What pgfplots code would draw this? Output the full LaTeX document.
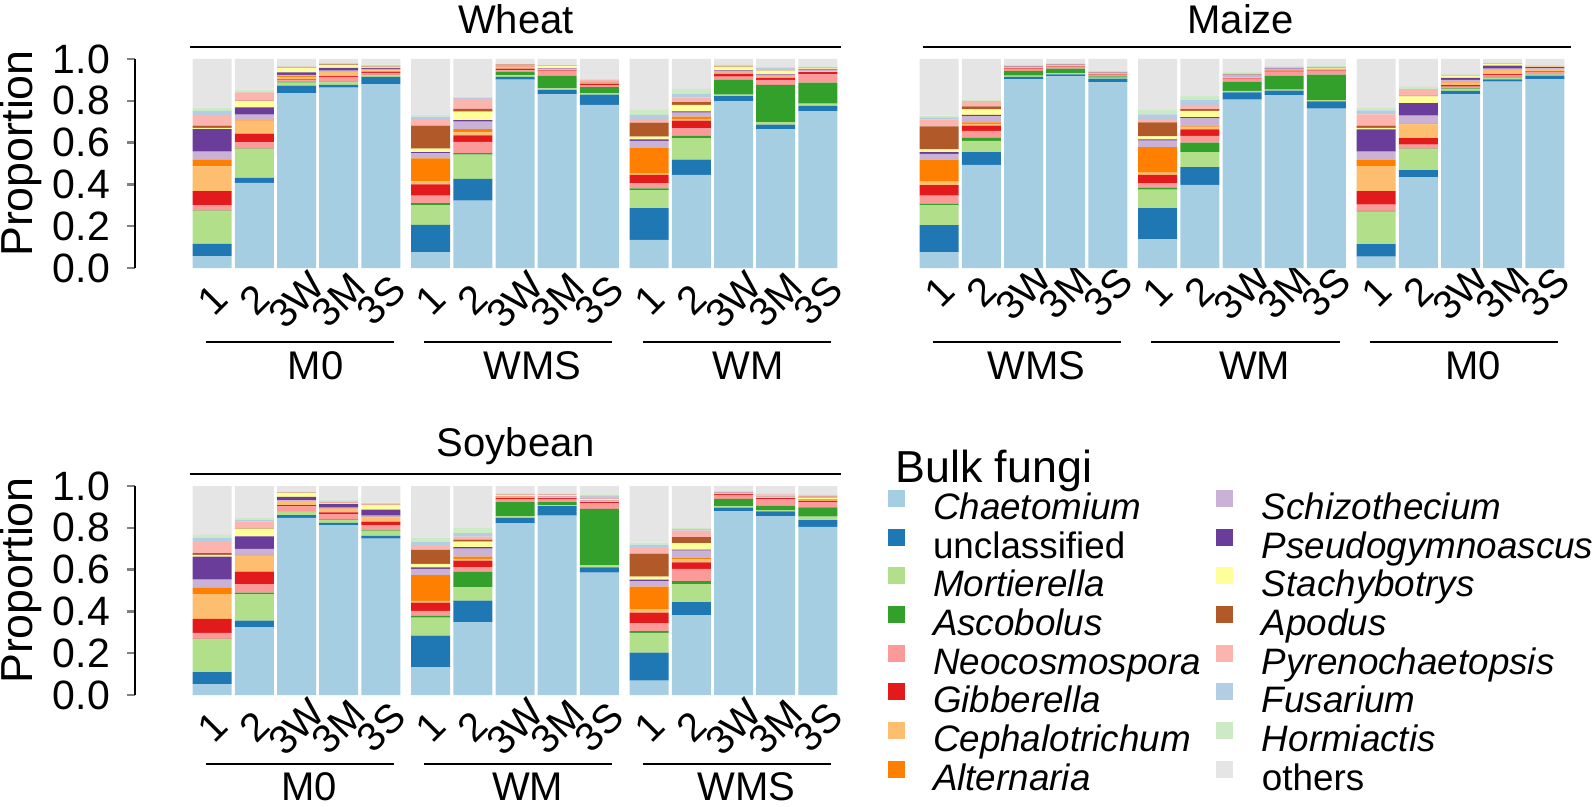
\documentclass[border=0pt]{standalone}
\usepackage{fontspec}
\setmainfont{Liberation Sans}
\usepackage{pgfplots}
\usepackage{pgfplotstable}
\pgfplotsset{compat=1.18}

\definecolor{cCha}{HTML}{A6CEE3}
\definecolor{cUnc}{HTML}{1F78B4}
\definecolor{cMor}{HTML}{B2DF8A}
\definecolor{cAsc}{HTML}{33A02C}
\definecolor{cNeo}{HTML}{FB9A99}
\definecolor{cGib}{HTML}{E31A1C}
\definecolor{cCep}{HTML}{FDBF6F}
\definecolor{cAlt}{HTML}{FF7F00}
\definecolor{cSch}{HTML}{CAB2D6}
\definecolor{cPse}{HTML}{6A3D9A}
\definecolor{cSta}{HTML}{FFFF99}
\definecolor{cApo}{HTML}{B15928}
\definecolor{cPyr}{HTML}{FBB4AE}
\definecolor{cFus}{HTML}{B3CDE3}
\definecolor{cHor}{HTML}{CCEBC5}
\definecolor{cOth}{HTML}{E5E5E5}

\newcommand{\gfont}{\fontsize{20}{23}\selectfont}
\newcommand{\xfont}{\fontsize{20}{23}\selectfont}
\newcommand{\tfont}{\fontsize{20.5}{24}\selectfont}
\newcommand{\lfont}{\fontsize{22.4}{26}\selectfont}

\pgfplotstableread{
x Cha Unc Mor Asc Neo Gib Cep Alt Sch Pse Sta Apo Pyr Fus Hor Oth
0 .056 .059 .156 .003 .027 .067 .118 .031 .040 .108 .006 .010 .052 .019 .016 .232
1 .407 .024 .138 .002 .030 .042 .062 .003 .026 .035 .030 .002 .039 .002 .011 .147
2 .836 .036 .015 .003 .008 .005 .012 .003 .006 .012 .020 .002 .005 .002 .002 .033
3 .863 .013 .012 .002 .024 .004 .020 .002 .004 .014 .014 .002 .004 .002 .002 .018
4 .879 .035 .008 .002 .010 .005 .006 .003 .005 .005 .006 .002 .003 .002 .002 .027
5.18 .075 .131 .095 .010 .035 .054 .015 .110 .024 .006 .016 .110 .032 .011 .008 .268
6.18 .322 .104 .116 .008 .053 .032 .014 .016 .035 .007 .041 .013 .048 .006 .003 .182
7.18 .901 .014 .007 .017 .007 .008 .008 .002 .002 .002 .003 .002 .003 .001 .001 .022
8.18 .831 .021 .008 .060 .023 .003 .003 .001 .004 .002 .010 .001 .002 .001 .001 .029
9.18 .781 .048 .008 .029 .008 .008 .004 .001 .002 .001 .002 .001 .008 .001 .001 .097
10.36 .135 .152 .086 .008 .024 .041 .006 .124 .032 .008 .013 .066 .018 .020 .024 .243
11.36 .446 .073 .103 .011 .035 .037 .009 .010 .020 .005 .032 .013 .022 .017 .024 .143
12.36 .798 .024 .007 .071 .016 .013 .004 .002 .008 .002 .019 .002 .004 .001 .001 .028
13.36 .663 .023 .012 .178 .024 .010 .004 .002 .008 .002 .018 .001 .003 .011 .002 .039
14.36 .751 .025 .010 .101 .040 .010 .004 .001 .006 .002 .005 .002 .003 .002 .002 .036
}\wheat

\pgfplotstableread{
x Cha Unc Mor Asc Neo Gib Cep Alt Sch Pse Sta Apo Pyr Fus Hor Oth
0 .075 .130 .095 .008 .038 .051 .016 .106 .027 .008 .014 .110 .032 .011 .008 .271
1 .494 .060 .054 .016 .032 .025 .009 .007 .030 .006 .026 .014 .021 .004 .005 .197
2 .902 .012 .007 .022 .009 .003 .005 .001 .001 .001 .001 .001 .003 .001 .001 .030
3 .917 .010 .006 .021 .009 .003 .004 .001 .001 .001 .001 .001 .002 .001 .001 .021
4 .889 .017 .005 .006 .008 .003 .004 .001 .001 .001 .001 .001 .003 .001 .001 .058
5.18 .138 .149 .088 .008 .023 .040 .010 .122 .032 .006 .014 .067 .017 .021 .022 .243
6.18 .398 .085 .071 .046 .032 .031 .010 .005 .038 .006 .030 .008 .019 .024 .019 .178
7.18 .806 .034 .008 .042 .016 .003 .003 .001 .009 .003 .002 .001 .002 .001 .006 .063
8.18 .827 .022 .005 .067 .019 .004 .004 .001 .005 .002 .003 .001 .002 .001 .001 .036
9.18 .762 .035 .006 .122 .019 .003 .002 .001 .002 .001 .005 .001 .002 .001 .004 .034
10.36 .054 .060 .156 .003 .030 .065 .119 .029 .041 .106 .008 .010 .054 .019 .014 .232
11.36 .435 .033 .100 .003 .019 .031 .066 .003 .039 .060 .032 .003 .028 .004 .011 .133
12.36 .832 .016 .008 .003 .009 .007 .012 .002 .011 .010 .011 .001 .002 .001 .001 .074
13.36 .892 .011 .008 .003 .010 .004 .020 .001 .005 .014 .008 .001 .001 .001 .001 .020
14.36 .903 .018 .004 .002 .010 .004 .009 .001 .004 .006 .003 .001 .002 .001 .001 .031
}\maize

\pgfplotstableread{
x Cha Unc Mor Asc Neo Gib Cep Alt Sch Pse Sta Apo Pyr Fus Hor Oth
0 .051 .059 .156 .003 .028 .067 .119 .029 .040 .110 .008 .009 .053 .019 .015 .234
1 .324 .032 .127 .007 .041 .059 .077 .003 .029 .060 .037 .002 .033 .008 .011 .150
2 .848 .013 .016 .002 .024 .005 .017 .002 .005 .016 .019 .001 .002 .001 .003 .026
3 .812 .011 .014 .003 .026 .008 .016 .002 .005 .017 .005 .002 .004 .005 .003 .067
4 .748 .013 .024 .003 .025 .016 .021 .002 .006 .029 .021 .002 .006 .002 .002 .080
5.18 .132 .152 .086 .010 .022 .040 .008 .124 .029 .008 .016 .067 .019 .019 .022 .246
6.18 .349 .102 .064 .074 .023 .031 .008 .011 .038 .007 .027 .009 .015 .017 .024 .201
7.18 .821 .027 .008 .067 .013 .007 .005 .001 .002 .001 .005 .001 .004 .001 .002 .035
8.18 .858 .046 .005 .014 .016 .003 .005 .001 .002 .001 .005 .001 .004 .001 .001 .037
9.18 .585 .026 .011 .268 .027 .006 .005 .001 .002 .001 .005 .001 .010 .007 .005 .040
10.36 .069 .134 .094 .009 .038 .050 .017 .107 .026 .008 .014 .110 .032 .011 .010 .271
11.36 .381 .064 .086 .014 .058 .032 .014 .008 .034 .004 .032 .029 .030 .008 .008 .198
12.36 .880 .016 .008 .034 .019 .004 .004 .001 .001 .001 .001 .001 .002 .001 .001 .027
13.36 .856 .023 .006 .021 .030 .006 .004 .001 .001 .001 .005 .001 .005 .004 .001 .035
14.36 .805 .032 .016 .045 .025 .006 .005 .001 .001 .001 .007 .005 .006 .001 .001 .043
}\soybean

\newcommand{\stackplots}[1]{%
  \addplot[fill=cCha] table[x=x,y=Cha]{#1};
  \addplot[fill=cUnc] table[x=x,y=Unc]{#1};
  \addplot[fill=cMor] table[x=x,y=Mor]{#1};
  \addplot[fill=cAsc] table[x=x,y=Asc]{#1};
  \addplot[fill=cNeo] table[x=x,y=Neo]{#1};
  \addplot[fill=cGib] table[x=x,y=Gib]{#1};
  \addplot[fill=cCep] table[x=x,y=Cep]{#1};
  \addplot[fill=cAlt] table[x=x,y=Alt]{#1};
  \addplot[fill=cSch] table[x=x,y=Sch]{#1};
  \addplot[fill=cPse] table[x=x,y=Pse]{#1};
  \addplot[fill=cSta] table[x=x,y=Sta]{#1};
  \addplot[fill=cApo] table[x=x,y=Apo]{#1};
  \addplot[fill=cPyr] table[x=x,y=Pyr]{#1};
  \addplot[fill=cFus] table[x=x,y=Fus]{#1};
  \addplot[fill=cHor] table[x=x,y=Hor]{#1};
  \addplot[fill=cOth] table[x=x,y=Oth]{#1};
}

\pgfplotsset{
  panel/.style={
    scale only axis, width=352pt, height=104.5pt, anchor=south west,
    xmin=-1.83, xmax=14.86, ymin=0, ymax=1,
    ybar stacked, bar width=19.5pt, clip=false,
    every axis plot/.append style={draw=none},
    xtick={0,1,2,3,4,5.18,6.18,7.18,8.18,9.18,10.36,11.36,12.36,13.36,14.36},
    xticklabels={1,2,3W,3M,3S,1,2,3W,3M,3S,1,2,3W,3M,3S},
    axis x line*=bottom,
    x axis line style={draw=none},
    xtick style={draw=none},
    xticklabel style={font=\xfont, inner sep=0pt, yshift=-12pt, rotate=45, anchor=center},
  },
  yaxis/.style={
    axis y line*=left,
    y axis line style={line width=1.2pt},
    ytick={0,0.2,0.4,0.6,0.8,1.0},
    ytick style={line width=1.2pt},
    tick align=outside, major tick length=4pt,
    yticklabel style={font=\tfont, xshift=-5pt, /pgf/number format/fixed, /pgf/number format/fixed zerofill, /pgf/number format/precision=1, /pgf/number format/assume math mode=true},
    ylabel={Proportion},
    every axis y label/.style={at={(axis description cs:0,0.5)}, xshift=-57pt, yshift=5pt, rotate=90, anchor=center, font=\lfont},
  },
}

\begin{document}
\begin{tikzpicture}
\useasboundingbox (0pt,0pt) rectangle (797pt,-403.5pt);

% Wheat
\begin{axis}[panel, yaxis, at={(67.5pt,-134pt)}]
\stackplots{\wheat}
\draw[line width=1pt] (axis cs:-0.53,1.058) -- (axis cs:14.9,1.058);
\node[font=\gfont] at (axis cs:7.2,1.19) {Wheat};
\draw[line width=0.8pt] (axis cs:-0.15,-0.354) -- (axis cs:4.31,-0.354);
\draw[line width=0.8pt] (axis cs:5.03,-0.354) -- (axis cs:9.49,-0.354);
\draw[line width=0.8pt] (axis cs:10.21,-0.354) -- (axis cs:14.67,-0.354);
\node[font=\gfont] at (axis cs:2.45,-0.469) {M0};
\node[font=\gfont] at (axis cs:7.6,-0.469) {WMS};
\node[font=\gfont] at (axis cs:12.7,-0.469) {WM};
\end{axis}

% Maize
\begin{axis}[panel, hide y axis, at={(431pt,-134pt)}]
\stackplots{\maize}
\draw[line width=1pt] (axis cs:-0.39,1.058) -- (axis cs:14.97,1.058);
\node[font=\gfont] at (axis cs:7.15,1.19) {Maize};
\draw[line width=0.8pt] (axis cs:-0.15,-0.354) -- (axis cs:4.31,-0.354);
\draw[line width=0.8pt] (axis cs:5.03,-0.354) -- (axis cs:9.49,-0.354);
\draw[line width=0.8pt] (axis cs:10.21,-0.354) -- (axis cs:14.67,-0.354);
\node[font=\gfont] at (axis cs:2.3,-0.469) {WMS};
\node[font=\gfont] at (axis cs:7.48,-0.469) {WM};
\node[font=\gfont] at (axis cs:12.66,-0.469) {M0};
\end{axis}

% Soybean
\begin{axis}[panel, yaxis, at={(67.5pt,-347.5pt)}]
\stackplots{\soybean}
\draw[line width=1pt] (axis cs:-0.53,1.058) -- (axis cs:14.9,1.058);
\node[font=\gfont] at (axis cs:7.2,1.19) {Soybean};
\draw[line width=0.8pt] (axis cs:-0.15,-0.33) -- (axis cs:4.31,-0.33);
\draw[line width=0.8pt] (axis cs:5.03,-0.33) -- (axis cs:9.49,-0.33);
\draw[line width=0.8pt] (axis cs:10.21,-0.33) -- (axis cs:14.67,-0.33);
\node[font=\gfont] at (axis cs:2.3,-0.44) {M0};
\node[font=\gfont] at (axis cs:7.48,-0.44) {WM};
\node[font=\gfont] at (axis cs:12.66,-0.44) {WMS};
\end{axis}

% Legend
\begin{axis}[scale only axis, width=352pt, height=104.5pt, anchor=south west,
  at={(67.5pt,-347.5pt)}, hide axis, clip=false,
  xmin=0, xmax=1, ymin=0, ymax=1,
  legend columns=2,
  legend image code/.code={\fill[#1] (0pt,1.5pt) rectangle (8.5pt,10pt); \path (22.75pt,0pt);},
  legend style={draw=none, fill=none, inner sep=0pt, outer sep=0pt,
    at={(axis description cs:1.0689,0.981)}, anchor=north west,
    font=\fontsize{18.4}{21}\selectfont, row sep=0.6pt,
    /tikz/every even column/.append style={column sep=7.75pt},
    nodes={inner sep=0pt, text height=13.5pt, text depth=4pt}},
  legend cell align=left]
\addlegendimage{fill=cCha,draw=none}\addlegendentry{\textit{Chaetomium}}
\addlegendimage{fill=cSch,draw=none}\addlegendentry{\textit{Schizothecium}}
\addlegendimage{fill=cUnc,draw=none}\addlegendentry{unclassified}
\addlegendimage{fill=cPse,draw=none}\addlegendentry{\textit{Pseudogymnoascus}}
\addlegendimage{fill=cMor,draw=none}\addlegendentry{\textit{Mortierella}}
\addlegendimage{fill=cSta,draw=none}\addlegendentry{\textit{Stachybotrys}}
\addlegendimage{fill=cAsc,draw=none}\addlegendentry{\textit{Ascobolus}}
\addlegendimage{fill=cApo,draw=none}\addlegendentry{\textit{Apodus}}
\addlegendimage{fill=cNeo,draw=none}\addlegendentry{\textit{Neocosmospora}}
\addlegendimage{fill=cPyr,draw=none}\addlegendentry{\textit{Pyrenochaetopsis}}
\addlegendimage{fill=cGib,draw=none}\addlegendentry{\textit{Gibberella}}
\addlegendimage{fill=cFus,draw=none}\addlegendentry{\textit{Fusarium}}
\addlegendimage{fill=cCep,draw=none}\addlegendentry{\textit{Cephalotrichum}}
\addlegendimage{fill=cHor,draw=none}\addlegendentry{\textit{Hormiactis}}
\addlegendimage{fill=cAlt,draw=none}\addlegendentry{\textit{Alternaria}}
\addlegendimage{fill=cOth,draw=none}\addlegendentry{others}
\node[font=\lfont, anchor=base west, inner sep=0pt] at (axis description cs:1.0795,1.019) {Bulk fungi};
\end{axis}
\end{tikzpicture}
\end{document}
